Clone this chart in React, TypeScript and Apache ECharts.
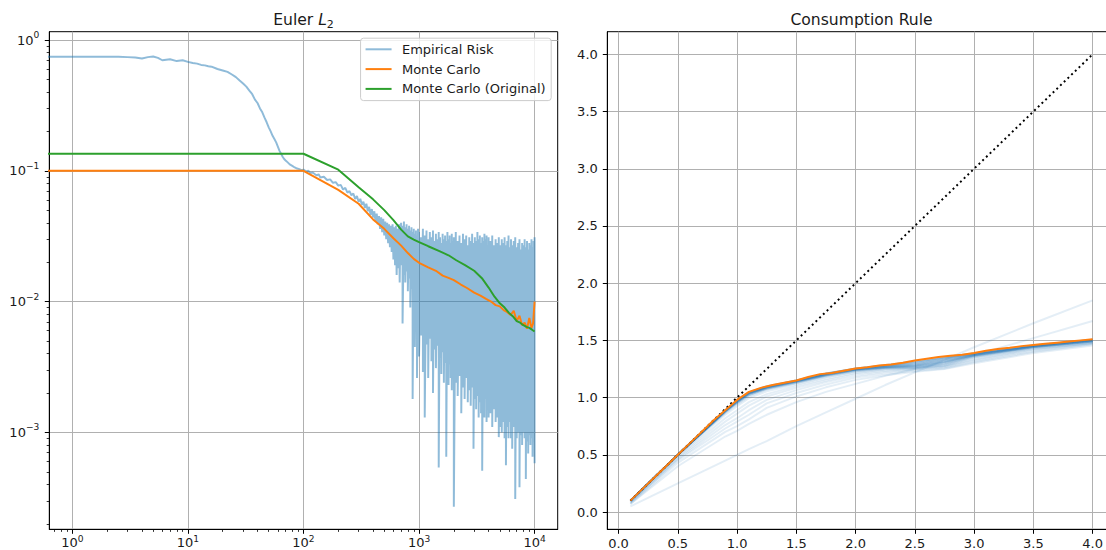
import React, { useEffect, useRef } from 'react';
import * as echarts from 'echarts';

const FONT = "'DejaVu Sans', sans-serif";
const TEXT_COLOR = '#1a1a1a';
const GRID_COLOR = '#b0b0b0';
const SPINE = '#000000';
const C_BLUE = '#1f77b4';
const C_BLUE_HALF = 'rgba(31,119,180,0.5)';
const C_ORANGE = '#ff7f0e';
const C_GREEN = '#2ca02c';

// ---------- Left panel: Euler L2 (log-log) ----------
const X_MIN_EXP = -0.2;
const X_MAX_EXP = 4.2;
const Y_MIN_EXP = -3.741;
const Y_MAX_EXP = 0.0635;
const X_TICK_EXP = [0, 1, 2, 3, 4];
const Y_TICK_EXP = [-3, -2, -1, 0];
const MINOR_MULT = [2, 3, 4, 5, 6, 7, 8, 9];

// Empirical risk, early (smooth) part
const ER_SMOOTH_X = [0, 1, 1.5, 2, 2.5, 3, 3.5, 4, 4.5, 5, 5.5, 6, 7, 8, 9, 10, 11, 12, 13, 14, 15, 16,
  18, 20, 22, 24, 26, 28, 30, 32, 34, 36, 38, 40, 42, 44, 46, 48, 50, 52, 54, 56, 58, 60, 62, 64, 66, 68, 70,
  73, 76, 80, 84, 88, 92, 96];
const ER_SMOOTH_Y = [0.745, 0.745, 0.745, 0.745, 0.744, 0.74, 0.735, 0.722, 0.74, 0.748, 0.73, 0.7,
  0.712, 0.69, 0.7, 0.68, 0.668, 0.66, 0.645, 0.64, 0.63, 0.625,
  0.6, 0.585, 0.57, 0.545, 0.52, 0.49, 0.465, 0.44, 0.41, 0.385, 0.35, 0.33, 0.3, 0.28, 0.255, 0.235, 0.215,
  0.2, 0.185, 0.175, 0.165, 0.153, 0.142, 0.135, 0.128, 0.123, 0.12,
  0.116, 0.112, 0.109, 0.106, 0.104, 0.103, 0.101];

// Empirical risk, middle part
const ER_MID_X = [100, 105, 110, 115, 120, 130, 135, 140, 150, 160, 170, 180, 190, 200, 210, 220, 230, 240,
  250, 260, 270, 280, 290, 300, 310, 320, 330, 340, 350, 360, 370, 380, 390, 400, 410, 420, 430, 440, 450,
  460, 470, 480, 490, 500, 510, 520, 530, 540, 550, 560, 570, 580, 590, 600, 610, 620, 630, 640, 650, 660,
  670, 680, 690];
const ER_MID_Y = [0.102, 0.099, 0.1, 0.096, 0.097, 0.092, 0.094, 0.089, 0.09, 0.085, 0.086, 0.081, 0.082,
  0.077, 0.078, 0.072, 0.074, 0.068, 0.07, 0.065, 0.067, 0.061, 0.064, 0.058, 0.061, 0.055, 0.058, 0.052,
  0.056, 0.049, 0.053, 0.046, 0.051, 0.044, 0.049, 0.041, 0.047, 0.039, 0.045, 0.036, 0.044, 0.034, 0.043,
  0.032, 0.041, 0.03, 0.04, 0.028, 0.039, 0.026, 0.038, 0.024, 0.039, 0.021, 0.037, 0.019, 0.038, 0.016,
  0.036, 0.018, 0.039, 0.014, 0.037];

// Empirical risk, noisy late part: local highs and lows
const NOISE_X = [700, 720, 740, 760, 780, 800, 820, 840, 860, 880,
  900, 920, 940, 960, 980, 1000, 1040, 1080, 1120, 1160,
  1200, 1240, 1280, 1320, 1360, 1400, 1440, 1480, 1520, 1560,
  1600, 1640, 1680, 1720, 1760, 1800, 1840, 1880, 1920, 1960,
  2000, 2080, 2160, 2240, 2320, 2400, 2480, 2560, 2640, 2720,
  2800, 2880, 2960, 3040, 3120, 3200, 3280, 3360, 3440, 3520,
  3600, 3680, 3760, 3840, 3920, 4000, 4150, 4300, 4450, 4600,
  4750, 4900, 5050, 5200, 5350, 5500, 5650, 5800, 5950, 6100,
  6250, 6400, 6600, 6800, 7000, 7200, 7400, 7600, 7800, 8000,
  8200, 8400, 8600, 8800, 9000, 9200, 9400, 9600, 9800, 10000];
const NOISE_HI = [0.040, 0.038, 0.041, 0.037, 0.039, 0.036, 0.038, 0.035, 0.037, 0.034,
  0.036, 0.033, 0.035, 0.032, 0.036, 0.034, 0.031, 0.036, 0.032, 0.035,
  0.030, 0.034, 0.031, 0.035, 0.029, 0.033, 0.030, 0.034, 0.031, 0.028,
  0.033, 0.030, 0.032, 0.029, 0.034, 0.030, 0.032, 0.028, 0.033, 0.029,
  0.031, 0.034, 0.029, 0.032, 0.028, 0.033, 0.030, 0.032, 0.027, 0.031,
  0.029, 0.033, 0.028, 0.031, 0.029, 0.034, 0.030, 0.032, 0.028, 0.031,
  0.029, 0.033, 0.030, 0.032, 0.027, 0.031, 0.029, 0.032, 0.027, 0.030,
  0.028, 0.031, 0.027, 0.030, 0.028, 0.031, 0.027, 0.029, 0.032, 0.026,
  0.030, 0.027, 0.029, 0.031, 0.026, 0.028, 0.030, 0.025, 0.028, 0.027,
  0.030, 0.026, 0.029, 0.025, 0.028, 0.027, 0.030, 0.026, 0.029, 0.031];
const NOISE_LO = [0.019, 0.0068, 0.016, 0.014, 0.017, 0.012, 0.015, 0.009, 0.0125, 0.0018,
  0.011, 0.0045, 0.0095, 0.0026, 0.007, 0.0038, 0.0055, 0.0029, 0.0013, 0.0047,
  0.0026, 0.0052, 0.0035, 0.002, 0.0043, 0.0031, 0.0046, 0.00054, 0.0037, 0.0028,
  0.0041, 0.0024, 0.0034, 0.00065, 0.003, 0.0023, 0.0033, 0.0026, 0.0021, 0.0029,
  0.00027, 0.0024, 0.0019, 0.0027, 0.0014, 0.0022, 0.0018, 0.0026, 0.0017, 0.0021,
  0.0016, 0.0022, 0.00075, 0.0018, 0.0015, 0.0019, 0.0013, 0.0017, 0.0014, 0.00051,
  0.0016, 0.0013, 0.0018, 0.0012, 0.0015, 0.0013, 0.0014, 0.0011, 0.0015, 0.0012,
  0.0013, 0.00092, 0.0011, 0.001, 0.0012, 0.0009, 0.00056, 0.0011, 0.0009, 0.0012,
  0.0009, 0.00075, 0.0011, 0.00031, 0.0009, 0.001, 0.00038, 0.00095, 0.0008, 0.001,
  0.0009, 0.00044, 0.00085, 0.00069, 0.00095, 0.0008, 0.0009, 0.00065, 0.00085, 0.00058];

// Monte Carlo
const MC_X = [0, 100, 200, 300, 400, 500, 600, 700, 800, 900, 1000, 1200, 1400, 1600, 1800, 2000, 2300, 2600,
  3000, 3400, 3800, 4200, 4600, 5000, 5400, 5800, 6200, 6600, 7000, 7400, 7800, 8200, 8600, 9000, 9400, 9700, 10000];
const MC_Y = [0.1, 0.1, 0.0715, 0.056, 0.0425, 0.036, 0.0305, 0.0268, 0.0235, 0.0212, 0.0198, 0.0183, 0.0172,
  0.0158, 0.0152, 0.0146, 0.0135, 0.0127, 0.0117, 0.0111, 0.0105, 0.0100, 0.0094, 0.0092, 0.0086, 0.0083,
  0.0079, 0.0085, 0.0071, 0.0078, 0.0066, 0.0069, 0.0062, 0.0075, 0.0063, 0.0068, 0.0100];

// Monte Carlo (Original)
const MCO_X = [0, 100, 200, 300, 400, 500, 600, 700, 800, 900, 1000, 1200, 1500, 1800, 2100, 2500, 3000, 3500,
  4000, 4500, 5000, 5500, 6000, 6500, 7000, 7500, 8000, 8500, 9000, 9500, 10000];
const MCO_Y = [0.135, 0.135, 0.102, 0.075, 0.0605, 0.05, 0.042, 0.0355, 0.0315, 0.0298, 0.0285, 0.0265, 0.0243,
  0.0226, 0.0207, 0.019, 0.0172, 0.0151, 0.0128, 0.0109, 0.0097, 0.009, 0.0082, 0.0077, 0.0071, 0.0069,
  0.0066, 0.0064, 0.0063, 0.0061, 0.0059];

// ---------- Right panel: Consumption Rule ----------
const R_X_MIN = -0.095;
const R_X_MAX = 4.195;
const R_Y_MIN = -0.151;
const R_Y_MAX = 4.198;
const R_TICKS = [0, 0.5, 1, 1.5, 2, 2.5, 3, 3.5, 4];

const CONS_X = [0.1, 0.2, 0.3, 0.4, 0.5, 0.6, 0.7, 0.8, 0.9, 1.0, 1.1, 1.2, 1.3, 1.4, 1.5, 1.6, 1.7, 1.8, 1.9,
  2.0, 2.1, 2.2, 2.3, 2.4, 2.5, 2.6, 2.7, 2.8, 2.9, 3.0, 3.1, 3.2, 3.3, 3.4, 3.5, 3.6, 3.7, 3.8, 3.9, 4.0];
const CONS_Y = [0.1, 0.2, 0.3, 0.4, 0.5, 0.6, 0.7, 0.8, 0.89, 0.98, 1.05, 1.085, 1.11, 1.13, 1.15, 1.18, 1.205,
  1.215, 1.235, 1.255, 1.265, 1.28, 1.29, 1.305, 1.325, 1.34, 1.355, 1.365, 1.375, 1.39, 1.41, 1.425, 1.435,
  1.45, 1.46, 1.47, 1.48, 1.49, 1.5, 1.51];

const DIAG_X = [0.1, 4.0];
const DIAG_Y = [0.1, 4.0];

const RUN_X = [0.1, 0.5, 0.9, 1.0, 1.1, 1.25, 1.5, 1.75, 2.0, 2.25, 2.5, 2.75, 3.0, 3.5, 4.0];
const RUNS = [
  [0.1, 0.5, 0.89, 0.975, 1.045, 1.095, 1.15, 1.21, 1.25, 1.28, 1.31, 1.35, 1.385, 1.455, 1.505],
  [0.1, 0.5, 0.885, 0.97, 1.04, 1.09, 1.145, 1.205, 1.25, 1.275, 1.3, 1.34, 1.38, 1.45, 1.5],
  [0.1, 0.5, 0.88, 0.965, 1.035, 1.085, 1.14, 1.2, 1.245, 1.27, 1.285, 1.325, 1.375, 1.45, 1.5],
  [0.1, 0.5, 0.885, 0.97, 1.04, 1.09, 1.145, 1.2, 1.245, 1.265, 1.275, 1.31, 1.37, 1.445, 1.495],
  [0.1, 0.5, 0.88, 0.96, 1.03, 1.08, 1.135, 1.195, 1.24, 1.26, 1.27, 1.3, 1.365, 1.44, 1.49],
  [0.1, 0.5, 0.875, 0.955, 1.025, 1.08, 1.135, 1.195, 1.24, 1.265, 1.28, 1.32, 1.37, 1.445, 1.495],
  [0.1, 0.5, 0.88, 0.965, 1.035, 1.09, 1.145, 1.205, 1.25, 1.275, 1.295, 1.335, 1.38, 1.45, 1.5],
  [0.1, 0.5, 0.885, 0.975, 1.045, 1.095, 1.15, 1.21, 1.255, 1.28, 1.305, 1.345, 1.385, 1.455, 1.505],
  [0.1, 0.5, 0.87, 0.95, 1.02, 1.075, 1.13, 1.19, 1.235, 1.26, 1.265, 1.29, 1.36, 1.44, 1.49],
  [0.1, 0.5, 0.865, 0.94, 1.01, 1.07, 1.125, 1.185, 1.23, 1.255, 1.26, 1.285, 1.355, 1.435, 1.485],
  [0.1, 0.5, 0.89, 0.975, 1.045, 1.1, 1.15, 1.21, 1.255, 1.285, 1.32, 1.355, 1.385, 1.455, 1.505],
  [0.1, 0.5, 0.88, 0.96, 1.035, 1.09, 1.14, 1.2, 1.245, 1.27, 1.29, 1.33, 1.375, 1.445, 1.495],
  [0.1, 0.5, 0.89, 0.978, 1.048, 1.098, 1.148, 1.208, 1.252, 1.282, 1.315, 1.352, 1.387, 1.457, 1.507],
  [0.1, 0.5, 0.887, 0.972, 1.042, 1.092, 1.147, 1.207, 1.248, 1.272, 1.29, 1.33, 1.378, 1.452, 1.502],
  [0.1, 0.5, 0.883, 0.967, 1.038, 1.088, 1.142, 1.202, 1.246, 1.268, 1.28, 1.315, 1.372, 1.447, 1.497],
  [0.1, 0.5, 0.878, 0.962, 1.032, 1.083, 1.138, 1.198, 1.242, 1.262, 1.272, 1.305, 1.367, 1.442, 1.492],
  [0.1, 0.5, 0.886, 0.973, 1.043, 1.094, 1.149, 1.209, 1.253, 1.279, 1.302, 1.342, 1.382, 1.452, 1.502],
  [0.1, 0.5, 0.872, 0.952, 1.022, 1.077, 1.132, 1.192, 1.237, 1.258, 1.266, 1.295, 1.362, 1.442, 1.491],
  [0.1, 0.5, 0.888, 0.976, 1.046, 1.097, 1.151, 1.211, 1.254, 1.283, 1.312, 1.349, 1.386, 1.456, 1.506],
  [0.1, 0.5, 0.882, 0.964, 1.036, 1.087, 1.143, 1.203, 1.247, 1.267, 1.278, 1.312, 1.371, 1.446, 1.496],
  [0.095, 0.49, 0.85, 0.925, 0.995, 1.055, 1.115, 1.18, 1.225, 1.25, 1.26, 1.28, 1.35, 1.43, 1.48],
  [0.09, 0.48, 0.82, 0.89, 0.96, 1.03, 1.1, 1.165, 1.215, 1.245, 1.255, 1.275, 1.34, 1.425, 1.478],
  [0.09, 0.47, 0.79, 0.86, 0.93, 1.01, 1.085, 1.15, 1.205, 1.235, 1.25, 1.27, 1.33, 1.42, 1.475],
  [0.08, 0.46, 0.76, 0.82, 0.89, 0.98, 1.065, 1.135, 1.19, 1.225, 1.245, 1.265, 1.32, 1.41, 1.47],
  [0.08, 0.45, 0.73, 0.79, 0.85, 0.95, 1.04, 1.115, 1.175, 1.21, 1.235, 1.255, 1.31, 1.4, 1.465],
  [0.07, 0.43, 0.7, 0.75, 0.81, 0.91, 1.01, 1.09, 1.155, 1.195, 1.225, 1.25, 1.3, 1.39, 1.455],
  [0.07, 0.4, 0.66, 0.71, 0.77, 0.85, 0.96, 1.05, 1.12, 1.19, 1.25, 1.31, 1.37, 1.52, 1.67],
  [0.05, 0.25, 0.45, 0.5, 0.55, 0.62, 0.75, 0.87, 0.99, 1.11, 1.22, 1.33, 1.44, 1.65, 1.85],
];

// ---------- helpers ----------
// log10 mapping for the log-log panel; non-positive x (iteration 0) is clipped off the left edge
const lgx = (v: number) => (v > 0 ? Math.log10(v) : X_MIN_EXP - 1);
const lgy = (v: number) => Math.log10(v);

const pow10Label = (v: number) => {
  const e = Math.round(v);
  return `{b|10}{s|${e < 0 ? '\u2212' + -e : e}}`;
};

// compact rich block for x-axis labels (superscript top-aligned)
const powRichX = {
  b: { fontFamily: FONT, fontSize: 13, color: TEXT_COLOR, lineHeight: 13, padding: [3, 0, 0, 0], verticalAlign: 'middle' },
  s: { fontFamily: FONT, fontSize: 9.1, color: TEXT_COLOR, lineHeight: 9, verticalAlign: 'top' },
};
// symmetric rich block for y-axis labels (base digits centred on the tick)
const powRichY = {
  b: { fontFamily: FONT, fontSize: 13, color: TEXT_COLOR, lineHeight: 16, verticalAlign: 'middle' },
  s: { fontFamily: FONT, fontSize: 9.1, color: TEXT_COLOR, lineHeight: 16, padding: [0, 0, 10, 0], verticalAlign: 'middle' },
};

function minorTicks(lo: number, hi: number): number[] {
  const out: number[] = [];
  for (let n = Math.floor(lo) - 1; n <= Math.ceil(hi); n++) {
    MINOR_MULT.forEach((k) => {
      const v = n + Math.log10(k);
      if (v > lo && v < hi) out.push(v);
    });
  }
  return out;
}

function buildOption(): any {
  const erData: number[][] = [];
  ER_SMOOTH_X.forEach((x, i) => erData.push([lgx(x), lgy(ER_SMOOTH_Y[i])]));
  ER_MID_X.forEach((x, i) => erData.push([lgx(x), lgy(ER_MID_Y[i])]));
  NOISE_X.forEach((x, i) => {
    erData.push([lgx(x), lgy(NOISE_HI[i])]);
    erData.push([lgx(x), lgy(NOISE_LO[i])]);
  });
  const mcData = MC_X.map((x, i) => [lgx(x), lgy(MC_Y[i])]);
  const mcoData = MCO_X.map((x, i) => [lgx(x), lgy(MCO_Y[i])]);

  const axisLine = { show: true, onZero: false, lineStyle: { color: SPINE, width: 1 } };
  const splitLine = { show: true, lineStyle: { color: GRID_COLOR, width: 1 } };
  const plainLabel = { fontFamily: FONT, fontSize: 13, color: TEXT_COLOR };

  const xAxis = [
    {
      type: 'value', gridIndex: 0, position: 'bottom', min: X_MIN_EXP, max: X_MAX_EXP,
      axisLine,
      axisTick: { show: true, inside: false, length: 4.5, lineStyle: { color: SPINE, width: 1 }, customValues: X_TICK_EXP },
      axisLabel: { show: true, margin: 5, customValues: X_TICK_EXP, formatter: pow10Label, rich: powRichX, ...plainLabel, lineHeight: 13 },
      splitLine,
      minorTick: { show: false }, minorSplitLine: { show: false },
    },
    {
      type: 'value', gridIndex: 0, position: 'bottom', min: X_MIN_EXP, max: X_MAX_EXP,
      axisLine: { show: false, onZero: false },
      axisTick: { show: true, inside: false, length: 2.6, lineStyle: { color: SPINE, width: 0.8 }, customValues: minorTicks(X_MIN_EXP, X_MAX_EXP) },
      axisLabel: { show: false },
      splitLine: { show: false },
    },
    {
      type: 'value', gridIndex: 1, position: 'bottom', min: R_X_MIN, max: R_X_MAX,
      axisLine,
      axisTick: { show: true, inside: false, length: 4.5, lineStyle: { color: SPINE, width: 1 }, customValues: R_TICKS },
      axisLabel: { show: true, margin: 8.5, customValues: R_TICKS, formatter: (v: number) => v.toFixed(1), ...plainLabel, lineHeight: 12 },
      splitLine,
    },
  ];
  const yAxis = [
    {
      type: 'value', gridIndex: 0, position: 'left', min: Y_MIN_EXP, max: Y_MAX_EXP,
      axisLine,
      axisTick: { show: true, inside: false, length: 4.5, lineStyle: { color: SPINE, width: 1 }, customValues: Y_TICK_EXP },
      axisLabel: { show: true, margin: 10, customValues: Y_TICK_EXP, formatter: pow10Label, rich: powRichY, ...plainLabel, lineHeight: 16 },
      splitLine,
      minorTick: { show: false }, minorSplitLine: { show: false },
    },
    {
      type: 'value', gridIndex: 0, position: 'left', min: Y_MIN_EXP, max: Y_MAX_EXP,
      axisLine: { show: false, onZero: false },
      axisTick: { show: true, inside: false, length: 2.6, lineStyle: { color: SPINE, width: 0.8 }, customValues: minorTicks(Y_MIN_EXP, Y_MAX_EXP) },
      axisLabel: { show: false },
      splitLine: { show: false },
    },
    {
      type: 'value', gridIndex: 1, position: 'left', min: R_Y_MIN, max: R_Y_MAX,
      axisLine,
      axisTick: { show: true, inside: false, length: 4.5, lineStyle: { color: SPINE, width: 1 }, customValues: R_TICKS },
      axisLabel: { show: true, margin: 9.5, customValues: R_TICKS, formatter: (v: number) => v.toFixed(1), ...plainLabel, lineHeight: 16 },
      splitLine,
    },
  ];

  const lineBase = { type: 'line', showSymbol: false, symbol: 'none', silent: true, animation: false, emphasis: { disabled: true } };

  const series: any[] = [
    { ...lineBase, name: 'Empirical Risk', xAxisIndex: 0, yAxisIndex: 0, data: erData,
      lineStyle: { color: C_BLUE_HALF, width: 1.95 }, itemStyle: { color: C_BLUE_HALF }, z: 2 },
    { ...lineBase, name: 'Monte Carlo', xAxisIndex: 0, yAxisIndex: 0, data: mcData,
      lineStyle: { color: C_ORANGE, width: 1.95 }, itemStyle: { color: C_ORANGE }, z: 3 },
    { ...lineBase, name: 'Monte Carlo (Original)', xAxisIndex: 0, yAxisIndex: 0, data: mcoData,
      lineStyle: { color: C_GREEN, width: 1.95 }, itemStyle: { color: C_GREEN }, z: 4 },
  ];
  RUNS.forEach((run, k) => {
    series.push({ ...lineBase, name: `run ${k + 1}`, xAxisIndex: 2, yAxisIndex: 2,
      data: RUN_X.map((x, i) => [x, run[i]]),
      lineStyle: { color: C_BLUE, width: 1.95, opacity: 0.12 }, itemStyle: { color: C_BLUE }, z: 2 });
  });
  series.push({ ...lineBase, name: 'identity', xAxisIndex: 2, yAxisIndex: 2,
    data: DIAG_X.map((x, i) => [x, DIAG_Y[i]]),
    lineStyle: { color: '#000', width: 1.95, type: [1.95, 3.2], cap: 'butt' }, itemStyle: { color: '#000' }, z: 3 });
  series.push({ ...lineBase, name: 'policy', xAxisIndex: 2, yAxisIndex: 2,
    data: CONS_X.map((x, i) => [x, CONS_Y[i]]),
    lineStyle: { color: C_ORANGE, width: 1.95 }, itemStyle: { color: C_ORANGE }, z: 4 });

  return {
    animation: false,
    backgroundColor: '#ffffff',
    textStyle: { fontFamily: FONT },
    grid: [
      { left: 49.3, top: 31.7, width: 508.4, height: 497.6, show: true, borderColor: SPINE, borderWidth: 1,
        backgroundColor: 'transparent', containLabel: false, outerBoundsMode: 'none' },
      { left: 607.3, top: 31.7, width: 508.4, height: 497.6, show: true, borderColor: SPINE, borderWidth: 1,
        backgroundColor: 'transparent', containLabel: false, outerBoundsMode: 'none' },
    ],
    xAxis,
    yAxis,
    legend: {
      show: true, orient: 'vertical', right: 554.8, top: 38.2, align: 'left',
      padding: [3.6, 5.5, 4.2, 5], itemGap: 4.8, itemWidth: 26, itemHeight: 2, icon: 'rect',
      backgroundColor: 'rgba(255,255,255,0.8)', borderColor: '#cccccc', borderWidth: 1, borderRadius: 3,
      selectedMode: false,
      itemStyle: { borderWidth: 0 },
      textStyle: { fontFamily: FONT, fontSize: 13, color: TEXT_COLOR, lineHeight: 15, padding: [0, 0, 0, 5.4] },
      data: [
        { name: 'Empirical Risk', itemStyle: { color: C_BLUE_HALF } },
        { name: 'Monte Carlo', itemStyle: { color: C_ORANGE } },
        { name: 'Monte Carlo (Original)', itemStyle: { color: C_GREEN } },
      ],
    },
    graphic: [
      {
        type: 'text', x: 303.5, y: 20, silent: true,
        style: {
          text: '{a|Euler }{i|L}{s|2}',
          align: 'center', verticalAlign: 'middle', textAlign: 'center', textVerticalAlign: 'middle',
          rich: {
            a: { fontFamily: FONT, fontSize: 15.6, fill: TEXT_COLOR, lineHeight: 18, verticalAlign: 'middle' },
            i: { fontFamily: FONT, fontSize: 15.6, fontStyle: 'italic', fill: TEXT_COLOR, lineHeight: 18, verticalAlign: 'middle' },
            s: { fontFamily: FONT, fontSize: 11, fill: TEXT_COLOR, lineHeight: 18, padding: [8, 0, 0, 0], verticalAlign: 'middle' },
          },
        },
      },
      {
        type: 'text', x: 861.5, y: 20, silent: true,
        style: {
          text: 'Consumption Rule', fontFamily: FONT, fontSize: 15.6, fill: TEXT_COLOR,
          align: 'center', verticalAlign: 'middle', textAlign: 'center', textVerticalAlign: 'middle',
        },
      },
    ],
    series,
  };
}

export default function App() {
  const ref = useRef<HTMLDivElement>(null);
  useEffect(() => {
    if (!ref.current) return;
    const chart = echarts.init(ref.current, undefined, { renderer: 'svg' });
    chart.setOption(buildOption());
    return () => {
      chart.dispose();
    };
  }, []);
  return (
    <div
      ref={ref}
      style={{ position: 'absolute', left: 0, top: 0, width: 1106, height: 550, background: '#ffffff' }}
    />
  );
}
